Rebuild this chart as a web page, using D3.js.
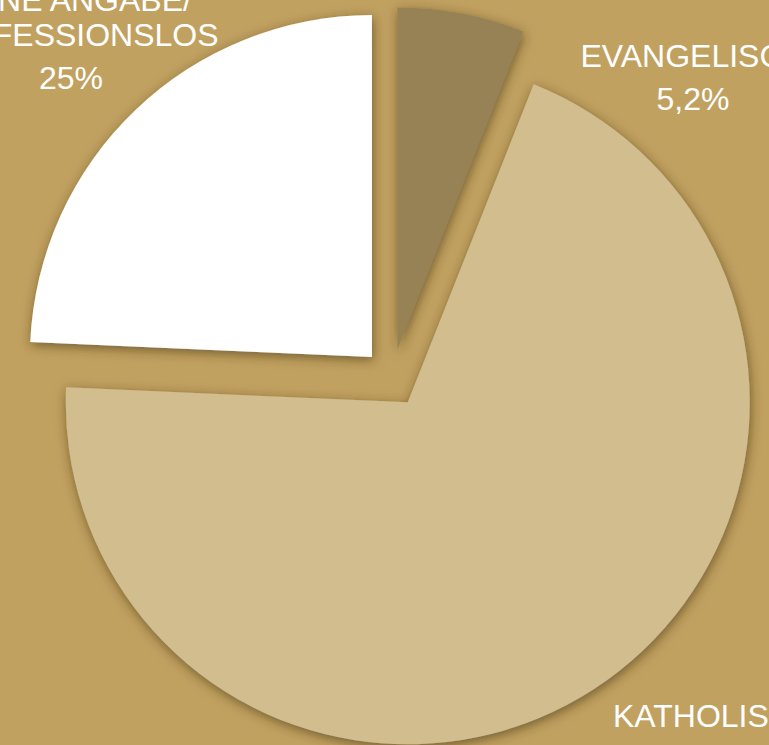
<!DOCTYPE html>
<html>
<head>
<meta charset="utf-8">
<script src="https://cdn.jsdelivr.net/npm/d3@7/dist/d3.min.js"></script>
<style>
  html, body { margin: 0; padding: 0; background: #C1A160; overflow: hidden; }
  svg { display: block; }
</style>
</head>
<body>
<svg id="chart" width="769" height="745"></svg>
<script>
// ---- data ----
const categories = ["EVANGELISCH", "KATHOLISCH", "OHNE ANGABE/KONFESSIONSLOS"];
const values = [6.0, 69.7, 24.3];
const labelNames = [["EVANGELISCH"], ["KATHOLISCH"], ["OHNE ANGABE/", "KONFESSIONSLOS"]];
const labelPercents = ["5,2%", "", "25%"];

// ---- style / layout ----
const colors = ["#968254", "#D1BD8D", "#FFFFFF"];
const W = 769, H = 745;
const cx = 392, cy = 378, R = 342, explode = 29;
const labelPos = [
  { x: 693, y: 67 },
  { x: 714, y: 727 },
  { x: 71, y: 11 }
];
const nameLineH = 34.5, pctGap = 43;

const svg = d3.select("#chart");
svg.append("rect").attr("width", W).attr("height", H).attr("fill", "#C1A160");

const defs = svg.append("defs");
const f = defs.append("filter").attr("id", "shadow")
  .attr("x", "-20%").attr("y", "-20%").attr("width", "140%").attr("height", "140%");
f.append("feDropShadow").attr("dx", 1).attr("dy", 3).attr("stdDeviation", 6)
  .attr("flood-color", "#3a2a08").attr("flood-opacity", 0.6);

const data = categories.map((c, i) => ({ cat: c, value: values[i], i }));
const pie = d3.pie().value(d => d.value).sort(null).startAngle(0).endAngle(2 * Math.PI);
const arcs = pie(data);
const arc = d3.arc().innerRadius(0).outerRadius(R);

const g = svg.append("g").attr("transform", `translate(${cx},${cy})`);
g.selectAll("path.slice").data(arcs).join("path")
  .attr("class", "slice")
  .attr("d", arc)
  .attr("fill", d => colors[d.data.i])
  .attr("filter", "url(#shadow)")
  .attr("transform", d => {
    const a = (d.startAngle + d.endAngle) / 2;
    return `translate(${explode * Math.sin(a)},${-explode * Math.cos(a)})`;
  });

// ---- labels ----
const lg = svg.append("g")
  .attr("font-family", "'Liberation Sans', Arial, sans-serif")
  .attr("font-size", 32)
  .attr("fill", "#FFFFFF")
  .attr("text-anchor", "middle");

arcs.forEach(d => {
  const i = d.data.i;
  const p = labelPos[i];
  const names = labelNames[i];
  const t = lg.append("text").attr("x", p.x).attr("y", p.y);
  names.forEach((n, k) => {
    t.append("tspan").attr("x", p.x).attr("y", p.y + k * nameLineH).text(n);
  });
  if (labelPercents[i]) {
    t.append("tspan").attr("x", p.x)
      .attr("y", p.y + (names.length - 1) * nameLineH + pctGap)
      .text(labelPercents[i]);
  }
});
</script>
</body>
</html>
